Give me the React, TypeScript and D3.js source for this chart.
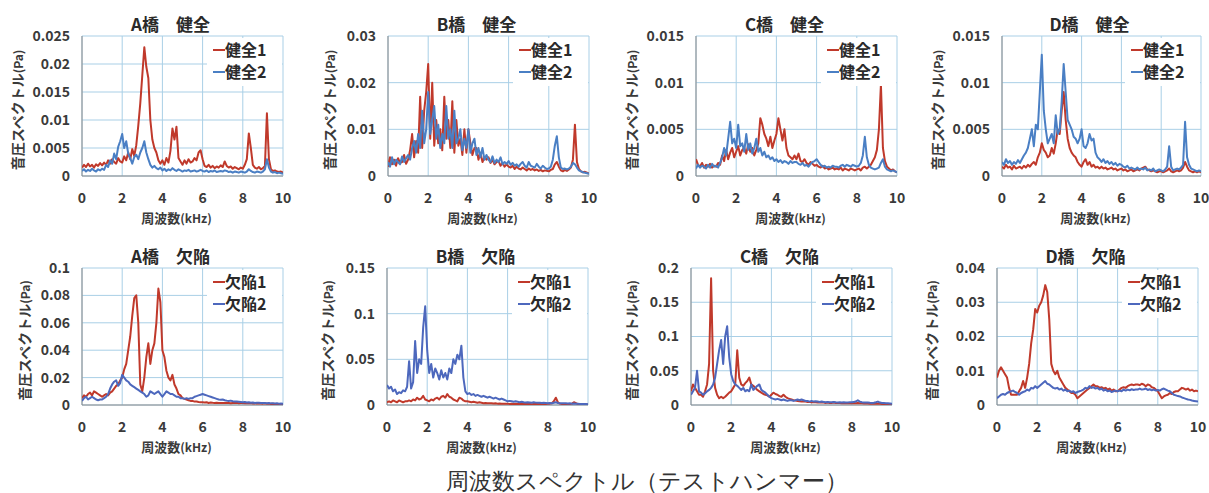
import React from 'react';
import * as d3 from 'd3';

// frequency axis (kHz), one sample every 0.1 kHz
const freqKHz = d3.range(0, 101).map((i) => i / 10);
const xTicks = [0, 2, 4, 6, 8, 10];

// ---- values in mPa ----
const aHealthy1 = [
  1.5,2.0,1.6,2.2,1.7,2.0,1.5,2.1,1.8,2.3,
  1.9,2.4,2.0,2.8,2.2,3.0,2.5,2.2,3.2,2.6,
  2.4,3.5,2.8,4.2,3.0,4.8,3.6,5.5,9.0,13.0,
  18.0,23.0,19.5,17.5,10.0,6.5,5.0,4.2,2.8,2.2,
  2.8,2.0,3.2,2.4,4.5,8.5,6.5,8.8,3.2,2.6,
  2.0,2.8,2.2,3.0,2.4,2.6,3.2,2.8,4.2,4.6,
  3.0,1.8,1.6,2.0,1.5,1.8,1.4,1.7,1.5,1.9,
  1.6,2.6,1.8,1.5,1.7,1.3,1.6,1.4,1.2,1.5,
  1.3,2.0,3.0,7.6,5.0,2.0,1.5,1.3,1.6,1.2,
  1.4,1.8,11.2,3.0,1.2,0.9,1.0,0.8,0.7,0.8,
  0.6];
const aHealthy2 = [
  0.9,1.2,0.8,1.1,0.9,1.3,1.0,0.8,1.2,1.0,
  1.3,1.1,2.0,1.6,2.8,2.2,4.0,3.0,5.2,6.2,
  7.5,5.0,6.2,4.0,3.2,2.2,3.4,3.8,3.0,4.2,
  5.0,6.2,4.2,3.0,2.0,1.5,1.8,1.4,1.2,1.5,
  1.0,1.3,0.9,1.2,1.0,1.4,1.1,0.9,1.2,1.0,
  0.8,1.0,0.9,1.1,0.8,0.9,1.0,0.8,0.9,1.1,
  0.9,0.8,1.0,0.7,0.9,0.8,1.0,0.7,0.8,0.9,
  0.8,1.0,0.9,0.7,0.8,0.6,0.8,0.7,0.6,0.8,
  0.7,0.6,0.8,1.2,0.9,0.7,0.6,0.8,0.7,0.6,
  0.8,1.2,3.0,1.5,0.8,0.6,0.7,0.5,0.6,0.5,
  0.4];
const bHealthy1 = [
  2.0,4.0,2.5,3.5,2.2,3.8,2.8,3.0,4.5,2.6,
  3.5,5.5,9.0,4.0,7.5,5.0,17.0,6.0,14.0,18.0,
  24.0,8.0,20.0,6.5,12.0,7.0,10.0,5.5,17.0,8.0,
  12.0,6.0,16.0,5.0,12.0,6.5,8.0,4.5,10.0,5.0,
  10.0,7.0,4.5,6.0,6.0,3.5,5.0,3.0,4.0,3.5,
  4.0,2.8,3.5,2.5,3.0,3.2,2.2,2.8,2.0,2.5,
  2.0,1.8,2.2,1.5,2.0,1.6,1.4,1.8,1.5,1.2,
  1.6,1.3,1.5,1.2,1.4,1.1,1.3,1.0,1.2,1.1,
  1.0,1.3,1.5,2.5,3.0,2.0,1.2,1.0,1.3,1.1,
  1.4,1.8,3.5,11.0,3.0,1.5,1.0,0.8,0.9,0.7,
  0.5];
const bHealthy2 = [
  3.0,2.0,4.0,2.5,3.5,3.0,2.5,4.2,3.0,3.8,
  4.5,3.5,6.0,7.5,5.0,9.0,6.0,14.0,7.0,10.0,
  18.0,9.0,12.0,15.0,8.0,11.0,6.0,9.0,7.0,15.0,
  8.0,10.0,6.0,14.0,7.0,8.0,10.0,5.5,8.0,6.0,
  10.0,5.0,7.0,8.0,4.5,6.0,4.0,6.0,3.5,4.5,
  3.5,3.0,4.2,2.8,3.5,3.0,4.0,2.5,3.0,2.6,
  3.2,2.4,2.8,2.2,2.5,2.0,2.6,3.0,2.2,1.8,
  3.0,2.2,2.0,1.8,2.6,2.0,1.6,2.2,1.8,1.5,
  1.6,2.0,3.5,6.5,8.5,4.0,1.8,1.5,1.6,1.4,
  1.6,2.0,2.8,2.5,1.8,1.2,1.0,0.8,0.7,0.6,
  0.5];
const cHealthy1 = [
  1.8,1.2,1.0,1.4,0.9,1.2,1.0,1.3,0.9,1.1,
  1.0,1.4,1.2,2.2,1.6,2.8,1.8,2.5,3.0,2.0,
  2.6,3.2,2.2,2.8,3.0,2.4,3.4,2.6,3.0,2.2,
  2.8,3.5,6.2,5.5,4.5,4.0,3.2,4.2,3.0,3.8,
  4.5,6.2,5.0,3.8,5.0,3.0,2.2,2.0,1.8,2.2,
  1.8,2.4,1.6,1.5,1.8,1.4,1.2,1.5,1.3,1.1,
  1.2,1.0,0.9,1.1,0.8,0.9,0.7,0.8,0.9,0.7,
  0.8,0.7,0.9,0.6,0.8,0.7,0.6,0.8,0.7,0.6,
  0.7,0.8,0.6,0.9,1.0,0.8,1.0,1.2,1.6,2.0,
  2.8,5.0,9.8,3.0,1.6,1.0,0.8,0.6,0.7,0.5,
  0.4];
const cHealthy2 = [
  0.8,1.2,0.9,1.1,1.0,0.8,1.2,0.9,1.3,1.0,
  1.1,0.9,1.4,2.0,3.0,2.2,4.0,5.8,3.5,4.0,
  3.0,5.5,3.2,3.5,2.6,4.5,2.8,3.5,2.4,3.0,
  4.0,2.6,3.0,2.2,2.6,2.0,2.2,1.8,2.0,1.6,
  1.8,1.5,1.7,1.4,1.6,1.5,1.3,1.6,1.4,1.5,
  1.5,1.3,1.2,1.4,1.1,1.2,1.0,1.3,1.5,1.6,
  1.8,1.5,1.2,1.0,1.1,0.9,1.0,0.9,1.1,1.0,
  1.0,0.9,1.1,1.2,1.0,1.2,1.1,1.0,1.2,1.1,
  1.0,1.1,1.4,2.2,4.2,2.0,1.2,0.9,0.8,0.7,
  0.8,0.9,1.4,1.8,1.0,0.7,0.6,0.5,0.6,0.5,
  0.4];
const dHealthy1 = [
  1.0,0.8,1.2,0.9,1.0,0.7,1.1,0.8,0.9,1.0,
  0.8,1.1,0.9,1.2,1.0,1.3,1.5,1.2,2.0,2.5,
  3.5,2.8,2.5,2.0,2.2,3.0,2.4,3.5,5.0,4.5,
  7.0,9.0,6.0,4.0,3.0,2.5,2.2,2.0,1.5,1.2,
  1.0,1.5,1.8,1.2,1.5,1.0,1.2,0.9,1.0,0.8,
  1.0,0.8,0.9,0.7,0.8,0.9,0.7,0.8,0.6,0.7,
  0.8,0.6,0.7,0.5,0.6,0.7,0.5,0.6,0.7,0.6,
  0.8,0.9,1.0,0.7,0.6,0.5,0.6,0.5,0.4,0.5,
  0.5,0.4,0.5,0.6,0.8,0.5,0.4,0.5,0.6,0.5,
  0.6,0.9,1.5,1.0,0.6,0.5,0.4,0.5,0.4,0.5,
  0.4];
const dHealthy2 = [
  1.5,1.2,1.8,1.4,1.6,1.2,1.5,1.3,1.7,1.4,
  1.8,2.2,2.5,3.0,4.0,5.0,3.2,5.5,5.0,9.0,
  13.0,7.0,5.0,3.5,4.0,4.5,3.5,6.5,4.5,5.0,
  8.0,12.0,9.0,6.0,5.5,5.0,4.2,4.0,3.5,4.0,
  5.0,3.2,3.0,3.5,4.5,3.8,4.0,2.5,2.0,1.8,
  1.5,1.8,1.4,1.6,1.3,1.5,1.2,1.4,1.1,1.3,
  1.2,1.0,0.9,1.1,0.8,0.9,0.8,0.7,0.9,0.7,
  0.8,0.7,0.9,0.6,0.7,0.6,0.8,0.5,0.6,0.7,
  0.6,0.5,0.7,1.0,3.2,1.0,0.6,0.7,0.8,0.7,
  0.9,1.2,5.8,2.0,1.2,0.8,0.7,0.6,0.5,0.6,
  0.5];
const aDefect1 = [
  5,7,6,8,9,7,10,9,8,7,
  6,7,8,7,9,10,12,14,15,18,
  20,26,30,40,50,65,78,80,60,15,
  10,20,35,45,30,40,45,60,85,75,
  40,35,25,20,18,22,15,12,8,7,
  5,4.5,4,3.5,3,3,2.5,2.5,2.2,2,
  2,1.8,2,1.5,1.8,1.6,1.5,1.7,1.5,1.4,
  1.5,1.4,1.6,1.5,1.3,1.5,1.4,1.6,1.3,1.5,
  1.4,1.3,1.5,1.2,1.4,1.1,1.3,1.0,1.2,1.1,
  1.0,1.2,0.9,1.0,0.8,0.9,0.7,0.8,0.6,0.7,
  0.5];
const aDefect2 = [
  3,5,6,4,5,6,5,4,3.5,4,
  4,5,6,8,12,15,17,18,14,16,
  22,20,18,17,15,14,13,12,11,10,
  9,8,6,7,10,9,8,9,10,8,
  6,8,10,9,8,8,7,6,6,5,
  5,4.5,5,4.5,5,5,6,6.5,7,7.5,
  8,7.5,7,6.5,6,5.5,5,4.5,4,3.8,
  4,3.5,3.2,3,3.2,2.8,2.6,2.5,2.4,2.2,
  2,2.2,1.8,2,1.6,1.8,1.5,1.7,1.6,1.4,
  1.5,1.4,1.3,1.5,1.2,1.3,1.1,1.2,1.0,1.1,
  1.0];
const bDefect1 = [
  3,4,3,5,4,3,5,4,3,4,
  4,5,4,6,5,8,6,7,10,6,
  5,4,6,5,7,8,6,9,10,8,
  12,9,8,6,5,4,8,7,5,4,
  4,3.5,3,3.5,3,2.5,3,2.5,2,2.2,
  2,1.8,2,1.6,1.8,1.5,1.6,1.4,1.5,1.3,
  1.5,1.2,1.4,1.1,1.3,1.0,1.2,1.0,1.1,1.0,
  1.0,1.2,0.9,1.1,1.0,1.2,1.0,1.1,1.3,1.2,
  1.4,1.5,2.0,4.0,8.0,3.0,1.5,1.2,1.0,1.1,
  1.0,1.2,1.5,3.0,2.0,1.0,0.8,0.7,0.6,0.6,
  0.5];
const bDefect2 = [
  22,18,20,15,17,12,14,13,16,15,
  20,48,18,25,70,35,50,45,85,108,
  60,35,45,30,40,35,28,38,30,35,
  28,40,35,50,45,55,50,65,30,15,
  12,13,11,12,10,11,10,9,10,9,
  8,9,8,7,8,7,6,7,6,5,
  4,4.5,4,3.5,4,3.5,3,3.5,3,2.8,
  3,2.8,2.5,3,2.6,2.4,2.5,2.2,2.4,2.2,
  2,2.2,2,2.5,3,2.2,2,1.8,2,1.8,
  1.6,1.8,1.5,1.6,1.4,1.3,1.2,1.1,1.0,1.0,
  0.8];
const cDefect1 = [
  20,30,25,20,15,15,12,20,30,60,
  185,50,25,15,10,12,10,12,15,18,
  20,25,30,80,40,30,28,32,35,40,
  30,28,25,22,20,18,16,15,14,12,
  15,18,16,15,13,12,15,12,10,9,
  8,7,6.5,6,5.5,5,5.5,5,4.5,4.5,
  4,4.5,4,3.5,4,3.5,3.5,3,3.5,3,
  3,3.5,3,2.8,3,2.6,3,2.5,2.8,2.6,
  2.5,2.8,2.5,3,2.6,2.4,2.2,2.4,2.2,2.0,
  2.0,2.2,1.8,2.0,1.8,1.6,1.5,1.4,1.3,1.2,
  1.0];
const cDefect2 = [
  15,20,25,50,20,18,15,17,20,22,
  25,30,40,60,80,95,60,100,115,70,
  45,35,30,28,25,22,25,20,22,20,
  30,22,25,28,30,22,20,18,15,12,
  10,9,8,9,8,7,8,7,6,7,
  7,6,7,8,7,8,7,6,6,5,
  6,5,5.5,5,4.5,5,4.5,4,4.5,4,
  4,4.5,4,3.8,4,3.5,4,3.5,3.8,4,
  4,4.5,5,7,5,4,3.5,3.8,3.5,3.2,
  3,3.2,4,5,3.5,3,2.8,2.5,2.4,2.2,
  2];
const dDefect1 = [
  8,10,11,10,9,8,5,3,3,3,
  3,4,5,7,5,8,12,18,22,28,
  27,29,30,32,35,33,25,12,10,9,
  10,8,7,6,5,4.5,4,3.5,3.5,3,
  2,2.5,3,3.5,4,4.5,5,5.5,6,5.5,
  5.5,5,5.2,4.8,5,4.5,4.8,4.2,4.5,4,
  4,4.5,5,5.2,5,5.5,5.8,6,5.8,6,
  6,5.8,6.2,6,5.5,6,5.8,5.2,5,4.5,
  4,3,2,2.5,2.8,3,3.5,3.2,3.8,4,
  4,4.5,5,4.8,4.5,4.8,4.2,4.5,4,4.2,
  4];
const dDefect2 = [
  2,2.5,3,3.2,3,3.5,3.8,4,4.2,3.8,
  3.5,3,3.5,3.8,4,4.5,4.2,5,4.8,5.5,
  5,5.5,6,6.5,7,6.2,6,5.5,5,4.8,
  5,4.5,4.8,4.2,4.5,4,4.2,3.8,4,3.5,
  3.8,4,4.2,4.5,5,4.8,5.5,5,5.2,4.8,
  5,4.5,4.8,4.2,4.5,4,4.2,3.8,4,4.2,
  4,4.2,4,4.5,4.2,4.5,4.3,4.6,4.4,4.5,
  4.5,4.8,4.5,4.6,4.8,4.4,4.6,4.3,4.5,4.2,
  4.4,4.2,4.6,4.8,4.5,4.2,4,3.5,3,2.8,
  2.6,2.5,2.2,2,1.8,1.6,1.5,1.3,1.2,1.1,
  1];

// y-axis ticks (Pa)
const ticksAH = [0, 0.005, 0.01, 0.015, 0.02, 0.025];
const ticksBH = [0, 0.01, 0.02, 0.03];
const ticksCH = [0, 0.005, 0.01, 0.015];
const ticksDH = [0, 0.005, 0.01, 0.015];
const ticksAD = [0, 0.02, 0.04, 0.06, 0.08, 0.1];
const ticksBD = [0, 0.05, 0.1, 0.15];
const ticksCD = [0, 0.05, 0.1, 0.15, 0.2];
const ticksDD = [0, 0.01, 0.02, 0.03, 0.04];

const titles = ['A橋　健全', 'B橋　健全', 'C橋　健全', 'D橋　健全', 'A橋　欠陥', 'B橋　欠陥', 'C橋　欠陥', 'D橋　欠陥'];
const healthyNames = ['健全1', '健全2'];
const defectNames = ['欠陥1', '欠陥2'];

const panelData = [
  { s1: aHealthy1, s2: aHealthy2, ticks: ticksAH, names: healthyNames },
  { s1: bHealthy1, s2: bHealthy2, ticks: ticksBH, names: healthyNames },
  { s1: cHealthy1, s2: cHealthy2, ticks: ticksCH, names: healthyNames },
  { s1: dHealthy1, s2: dHealthy2, ticks: ticksDH, names: healthyNames },
  { s1: aDefect1, s2: aDefect2, ticks: ticksAD, names: defectNames },
  { s1: bDefect1, s2: bDefect2, ticks: ticksBD, names: defectNames },
  { s1: cDefect1, s2: cDefect2, ticks: ticksCD, names: defectNames },
  { s1: dDefect1, s2: dDefect2, ticks: ticksDD, names: defectNames },
];

// layout of each plot area
const layout = [
  { left: 82, top: 36, w: 201, h: 140, yt: 64 },
  { left: 388, top: 36, w: 201, h: 140, yt: 58 },
  { left: 696, top: 36, w: 201, h: 140, yt: 64 },
  { left: 1002, top: 36, w: 199, h: 140, yt: 64 },
  { left: 82, top: 268, w: 201, h: 137, yt: 57 },
  { left: 387, top: 268, w: 201, h: 137, yt: 59 },
  { left: 691, top: 268, w: 201, h: 137, yt: 59 },
  { left: 997, top: 268, w: 201, h: 137, yt: 65 },
];

const RED = '#c0392b';
const BLUE = '#4a7fc4';
const BLUE_D = '#4d68bd';
const GRID = '#a9cfe6';
const FONT = '"Noto Sans CJK JP", "Noto Sans", sans-serif';

function Panel({ idx }: { idx: number }) {
  const d = panelData[idx];
  const L = layout[idx];
  const x = d3.scaleLinear().domain([0, 10]).range([L.left, L.left + L.w]);
  const yMax = d.ticks[d.ticks.length - 1];
  const y = d3.scaleLinear().domain([0, yMax]).range([L.top + L.h, L.top]);
  const line = d3
    .line<number>()
    .x((_, i) => x(freqKHz[i]))
    .y((v) => y(v / 1000));
  const right = L.left + L.w;
  const bottom = L.top + L.h;
  const c2 = idx < 4 ? BLUE : BLUE_D;
  const clipId = `clip${idx}`;
  return (
    <g>
      <defs>
        <clipPath id={clipId}>
          <rect x={L.left} y={L.top - 2} width={L.w} height={L.h + 2} />
        </clipPath>
      </defs>
      {d.ticks.map((t) => (
        <line key={'h' + t} x1={L.left} x2={right} y1={y(t)} y2={y(t)} stroke={GRID} strokeWidth={1} />
      ))}
      {xTicks.map((t) => (
        <line key={'v' + t} x1={x(t)} x2={x(t)} y1={L.top} y2={bottom} stroke={GRID} strokeWidth={1} />
      ))}
      <line x1={L.left} x2={L.left} y1={L.top} y2={bottom} stroke="#8a8a8a" strokeWidth={1} />
      <line x1={L.left} x2={right} y1={bottom} y2={bottom} stroke="#8a8a8a" strokeWidth={1} />
      <g clipPath={`url(#${clipId})`}>
        <path d={line(d.s1) || ''} fill="none" stroke={RED} strokeWidth={2} strokeLinejoin="round" />
        <path d={line(d.s2) || ''} fill="none" stroke={c2} strokeWidth={2} strokeLinejoin="round" />
      </g>
      {d.ticks.map((t) => (
        <text key={'yl' + t} x={L.left - 12} y={y(t)} dy="0.35em" textAnchor="end" fontSize={14} fontWeight={700} fill="#3a3a3a" fontFamily={FONT}>
          {String(t)}
        </text>
      ))}
      {xTicks.map((t) => (
        <text key={'xl' + t} x={x(t)} y={bottom + 22} dy="0.35em" textAnchor="middle" fontSize={14} fontWeight={700} fill="#3a3a3a" fontFamily={FONT}>
          {String(t)}
        </text>
      ))}
      <text x={L.left + L.w / 2 - 6} y={bottom + 42} dy="0.35em" textAnchor="middle" fontSize={13} fontWeight={700} fill="#3a3a3a" fontFamily={FONT}>
        周波数<tspan fontSize={12}>(kHz)</tspan>
      </text>
      <text
        transform={`translate(${L.left - L.yt},${L.top + L.h / 2 + 4}) rotate(-90)`}
        textAnchor="middle"
        dy="0.35em"
        fontSize={14}
        fontWeight={700}
        fill="#3a3a3a"
        fontFamily={FONT}
      >
        音圧スペクトル<tspan fontSize={12}>(Pa)</tspan>
      </text>
      <text x={L.left + L.w / 2 - 12} y={L.top - 11} dy="0.35em" textAnchor="middle" fontSize={17} fontWeight={700} fill="#2a2a2a" fontFamily={FONT}>
        {titles[idx]}
      </text>
      <rect x={right - 76} y={L.top + 2} width={75} height={48} fill="#fff" />
      {[RED, c2].map((c, i) => (
        <g key={'lg' + i}>
          <line x1={right - 70} x2={right - 58} y1={L.top + 14 + i * 22} y2={L.top + 14 + i * 22} stroke={c} strokeWidth={2} />
          <text x={right - 58} y={L.top + 14 + i * 22} dy="0.35em" fontSize={16} fontWeight={700} fill="#2a2a2a" fontFamily={FONT}>
            {d.names[i]}
          </text>
        </g>
      ))}
    </g>
  );
}

export default function App() {
  return (
    <svg width={1209} height={493} style={{ position: 'absolute', left: 0, top: 0, background: '#fff' }}>
      <rect width={1209} height={493} fill="#fff" />
      {panelData.map((_, i) => (
        <Panel key={i} idx={i} />
      ))}
      <text x={647} y={481} dy="0.35em" textAnchor="middle" fontSize={23} fill="#333" fontFamily='"DejaVu Serif", serif'>
        周波数スペクトル（テストハンマー）
      </text>
    </svg>
  );
}
